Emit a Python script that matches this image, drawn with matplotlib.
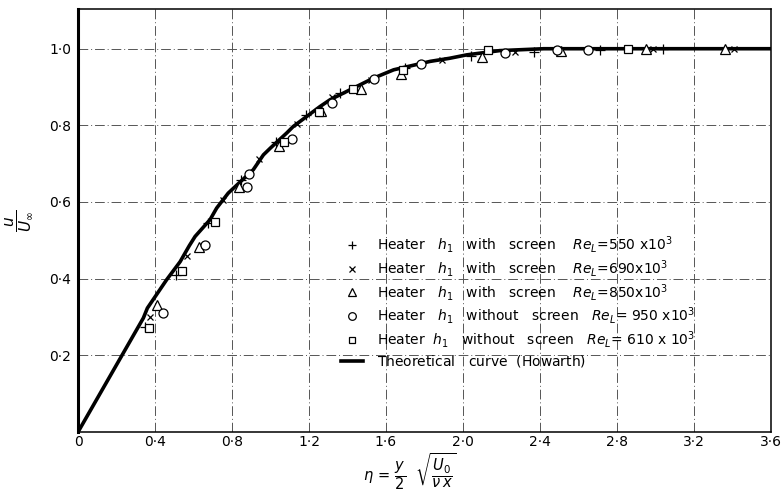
import matplotlib
matplotlib.use("Agg")
from matplotlib import pyplot as plt
from matplotlib.lines import Line2D

# Theoretical curve (Howarth)
curve_eta = [0, 0.339, 0.36, 0.46, 0.53, 0.578, 0.608, 0.686, 0.72, 0.78, 0.91,
             0.963, 1.0, 1.084, 1.118, 1.257, 1.31, 1.534, 1.64, 1.83, 1.93,
             2.02, 2.19, 2.42, 3.6]
curve_u = [0, 0.297, 0.323, 0.397, 0.444, 0.486, 0.51, 0.554, 0.584, 0.623, 0.684,
           0.723, 0.741, 0.78, 0.797, 0.849, 0.867, 0.923, 0.945, 0.967, 0.975,
           0.984, 0.995, 1.0, 1.0]

# Measured points
plus_eta = [0.35, 0.51, 0.675, 0.845, 1.03, 1.185, 1.36, 1.70, 2.04, 2.37, 2.71, 3.04]
plus_u = [0.275, 0.41, 0.545, 0.658, 0.757, 0.828, 0.885, 0.95, 0.982, 0.992, 0.997, 1.0]

cross_eta = [0.375, 0.565, 0.755, 0.94, 1.14, 1.32, 1.52, 1.89, 2.27, 2.99, 3.41]
cross_u = [0.30, 0.46, 0.606, 0.713, 0.804, 0.875, 0.919, 0.971, 0.992, 1.0, 1.0]

tri_eta = [0.41, 0.63, 0.835, 1.045, 1.26, 1.47, 1.68, 2.10, 2.51, 2.95, 3.36]
tri_u = [0.33, 0.483, 0.64, 0.747, 0.838, 0.895, 0.935, 0.979, 0.995, 1.0, 1.0]

circ_eta = [0.44, 0.66, 0.88, 0.89, 1.11, 1.32, 1.54, 1.78, 2.22, 2.49, 2.65]
circ_u = [0.31, 0.488, 0.64, 0.674, 0.765, 0.859, 0.922, 0.961, 0.99, 0.997, 0.997]

sq_eta = [0.37, 0.54, 0.71, 1.07, 1.25, 1.43, 1.69, 2.13, 2.86]
sq_u = [0.27, 0.42, 0.548, 0.757, 0.836, 0.895, 0.945, 0.997, 1.0]

labels = [
    r"Heater   $h_1$   with   screen    $Re_L$=550 x10$^3$",
    r"Heater   $h_1$   with   screen    $Re_L$=690x10$^3$",
    r"Heater   $h_1$   with   screen    $Re_L$=850x10$^3$",
    r"Heater   $h_1$   without   screen   $Re_L$= 950 x10$^3$",
    r"Heater  $h_1$   without   screen   $Re_L$= 610 x 10$^3$",
    r"Theoretical   curve  (Howarth)$^{\ }$",
]

xticks = [0, 0.4, 0.8, 1.2, 1.6, 2.0, 2.4, 2.8, 3.2, 3.6]
xticklabels = ["0", "0·4", "0·8", "1·2", "1·6", "2·0", "2·4", "2·8", "3·2", "3·6"]
yticks = [0.2, 0.4, 0.6, 0.8, 1.0]
yticklabels = ["0·2", "0·4", "0·6", "0·8", "1·0"]

fig = plt.figure(figsize=(7.81, 4.93), dpi=100)
ax = fig.add_axes([0.1, 0.124, 0.887, 0.858])

ax.plot(curve_eta, curve_u, color="black", lw=2.6, zorder=2)

mk = dict(linestyle="none", color="black", markerfacecolor="white",
          markeredgewidth=0.9, zorder=3)
ax.plot(plus_eta, plus_u, marker="+", ms=7, **mk)
ax.plot(cross_eta, cross_u, marker="x", ms=5, **mk)
ax.plot(tri_eta, tri_u, marker="^", ms=6.5, **mk)
ax.plot(circ_eta, circ_u, marker="o", ms=6.5, **mk)
ax.plot(sq_eta, sq_u, marker="s", ms=6, **mk)

ax.set_xlim(0, 3.6)
ax.set_ylim(0, 1.104)
ax.set_xticks(xticks)
ax.set_xticklabels(xticklabels)
ax.set_yticks(yticks)
ax.set_yticklabels(yticklabels)
ax.tick_params(axis="x", length=0, labelsize=10, pad=2)
ax.tick_params(axis="y", length=0, labelsize=10, pad=5)

ax.grid(True, color="#555555", lw=0.7, linestyle=(0, (10, 3, 1, 3)))

for side in ["top", "right", "bottom"]:
    ax.spines[side].set_linewidth(1.1)
ax.spines["left"].set_linewidth(2.2)

ax.set_xlabel(r"$\eta\,=\,\dfrac{y}{2}\ \ \sqrt{\dfrac{U_0}{\nu\, x}}$", fontsize=10.5)
ax.xaxis.set_label_coords(0.479, -0.046, transform=ax.transAxes)
ax.xaxis.label.set_va("top")
ax.set_ylabel(r"$\dfrac{u}{U_\infty}$", fontsize=11, labelpad=10)

handles = [
    Line2D([], [], marker="+", ms=6, **mk),
    Line2D([], [], marker="x", ms=4.5, **mk),
    Line2D([], [], marker="^", ms=5.5, **mk),
    Line2D([], [], marker="o", ms=5.5, **mk),
    Line2D([], [], marker="s", ms=5, **mk),
    Line2D([], [], color="black", lw=2.6),
]
ax.legend(handles, labels, loc="upper left", bbox_to_anchor=(0.369, 0.484),
          frameon=False, fontsize=10, handlelength=1.6, handletextpad=1.0,
          labelspacing=0.2, borderpad=0)

fig.savefig("out.png", dpi=100)
